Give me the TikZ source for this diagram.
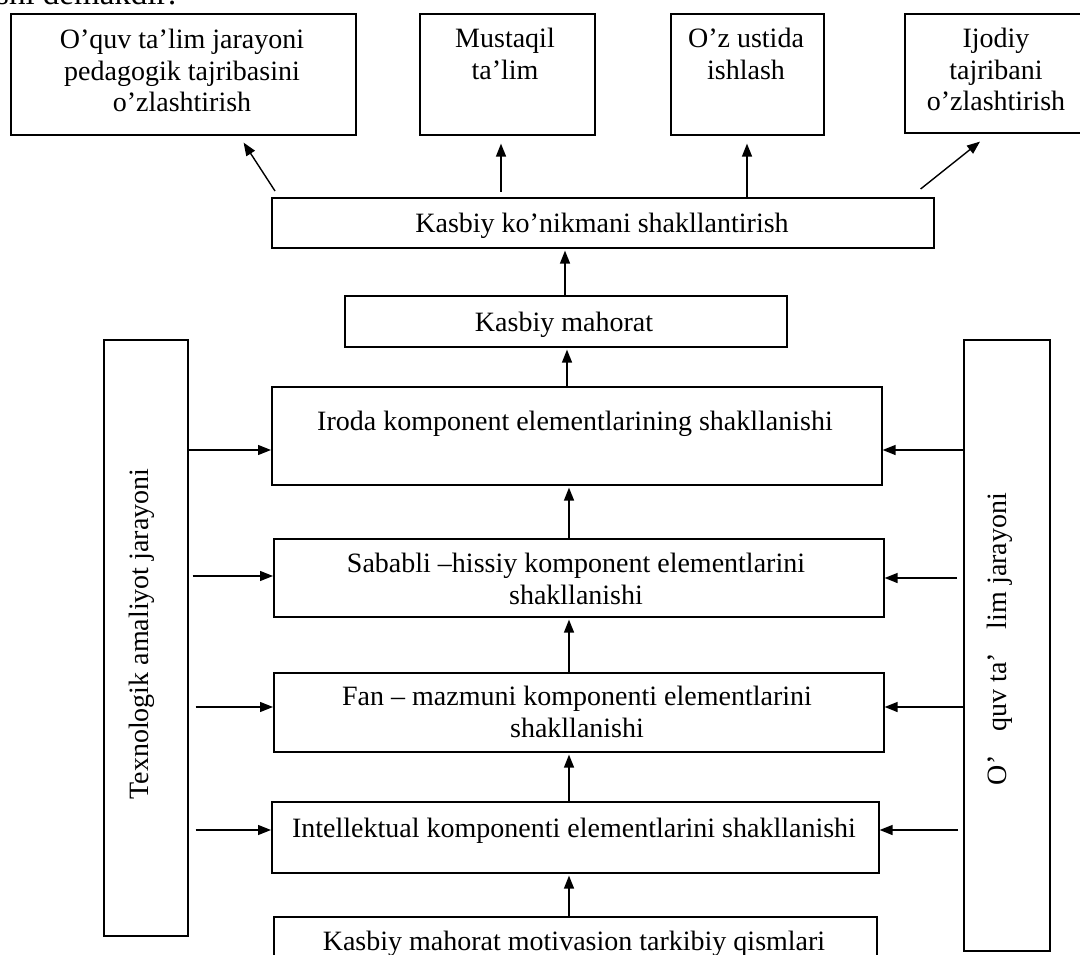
\documentclass[tikz,border=0pt]{standalone}
\usepackage{fontspec}
\setmainfont{Liberation Serif}
\usetikzlibrary{arrows.meta,calc}
\tikzset{
  bx/.style={draw, line width=1.6pt, inner sep=0pt, anchor=north west},
  txt/.style={align=center, inner sep=0pt, anchor=north, font=\fontsize{28}{31.5}\selectfont},
  vtxt/.style={inner sep=0pt, anchor=center, rotate=90, font=\fontsize{28}{31}\selectfont},
  arr/.style={-{Triangle[length=13pt,width=10pt]}, line width=1.4pt}
}
\begin{document}
\begin{tikzpicture}[x=1pt,y=-1pt]
\useasboundingbox (0,0) rectangle (1080,955);
\fill[white] (0,0) rectangle (1080,955);
% clipped text line at the top
\node[inner sep=0pt, anchor=base west, font=\fontsize{33}{36}\selectfont] (head) at (-4,5) {shi demakdir:};
% boxes
\node[bx, minimum width=345pt, minimum height=121pt] (B1) at (10,13) {};
\node[bx, minimum width=175pt, minimum height=121pt] (B2) at (419,13) {};
\node[bx, minimum width=153pt, minimum height=121pt] (B3) at (670,13) {};
\node[bx, minimum width=210pt, minimum height=119pt] (B4) at (904,13) {};
\node[bx, minimum width=662pt, minimum height=50pt] (K) at (271,197) {};
\node[bx, minimum width=442pt, minimum height=51pt] (M) at (344,295) {};
\node[bx, minimum width=610pt, minimum height=98pt] (I) at (271,386) {};
\node[bx, minimum width=610pt, minimum height=78pt] (S) at (273,538) {};
\node[bx, minimum width=610pt, minimum height=79pt] (F) at (273,672) {};
\node[bx, minimum width=607pt, minimum height=71pt] (N) at (271,801) {};
\node[bx, minimum width=603pt, minimum height=70pt] (V) at (273,916) {};
\node[bx, minimum width=84pt, minimum height=596pt] (L) at (103,339) {};
\node[bx, minimum width=86pt, minimum height=611pt] (R) at (963,339) {};
% texts
\node[txt] (t1) at (182,26.3) {\strut O’quv ta’lim jarayoni\\pedagogik tajribasini\\o’zlashtirish};
\node[txt] (t2) at (505,25.3) {\strut Mustaqil\\ta’lim};
\node[txt] (t3) at (746,25.3) {\strut O’z ustida\\ishlash};
\node[txt] (t4) at (996,25.3) {\strut Ijodiy\\tajribani\\o’zlashtirish};
\node[txt] (tK) at (602,210.3) {\strut Kasbiy ko’nikmani shakllantirish};
\node[txt] (tM) at (564,309.3) {\strut Kasbiy mahorat};
\node[txt] (tI) at (575,408.3) {\strut Iroda komponent elementlarining shakllanishi};
\node[txt] (tS) at (576,550.3) {\strut Sababli –hissiy komponent elementlarini\\shakllanishi};
\node[txt] (tF) at (577,683.3) {\strut Fan – mazmuni komponenti elementlarini\\shakllanishi};
\node[txt] (tN) at (574,815.3) {\strut Intellektual komponenti elementlarini shakllanishi};
\node[txt] (tV) at (574,928.3) {\strut Kasbiy mahorat motivasion tarkibiy qismlari};
\node[vtxt] (tL) at (142,634) {Texnologik amaliyot jarayoni};
\node[vtxt] (tR) at (1000,639) {O’\hspace{24pt}quv ta’\hspace{24pt}lim jarayoni};
% top arrows
\draw[arr] ($(K.north west)+(4,-6)$) -- ($(B1.south east)+(-113,7)$);
\draw[arr] ($(K.north -| 501,0)+(0,-5)$) -- ($(B2.south -| 501,0)+(0,8)$);
\draw[arr] (K.north -| 747,0) -- ($(B3.south -| 747,0)+(0,8)$);
\draw[arr] ($(K.north east)+(-14,-8)$) -- ($(B4.south west)+(76,8)$);
% vertical chain
\draw[arr] (M.north -| 565,0) -- ($(K.south -| 565,0)+(0,2)$);
\draw[arr] (I.north -| 567,0) -- ($(M.south -| 567,0)+(0,2)$);
\draw[arr] (S.north -| 569,0) -- ($(I.south -| 569,0)+(0,2)$);
\draw[arr] (F.north -| 569,0) -- ($(S.south -| 569,0)+(0,2)$);
\draw[arr] (N.north -| 569,0) -- ($(F.south -| 569,0)+(0,2)$);
\draw[arr] (V.north -| 569,0) -- ($(N.south -| 569,0)+(0,2)$);
% left arrows
\draw[arr] (L.east |- 0,450) -- (I.west |- 0,450);
\draw[arr] ($(L.east |- 0,576)+(4,0)$) -- (S.west |- 0,576);
\draw[arr] ($(L.east |- 0,707)+(7,0)$) -- (F.west |- 0,707);
\draw[arr] ($(L.east |- 0,830)+(7,0)$) -- (N.west |- 0,830);
% right arrows
\draw[arr] (R.west |- 0,450) -- (I.east |- 0,450);
\draw[arr] ($(R.west |- 0,578)+(-6,0)$) -- (S.east |- 0,578);
\draw[arr] (R.west |- 0,707) -- (F.east |- 0,707);
\draw[arr] ($(R.west |- 0,830)+(-5,0)$) -- (N.east |- 0,830);
\end{tikzpicture}
\end{document}
